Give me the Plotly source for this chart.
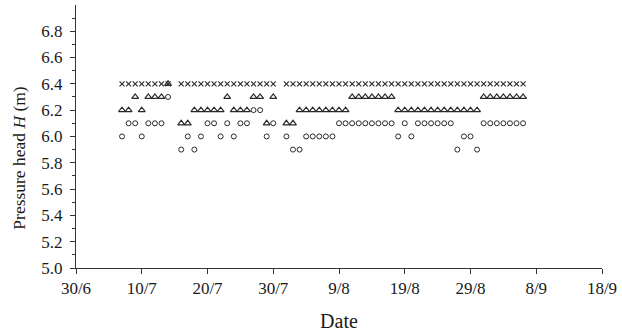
import plotly.graph_objects as go

# observation dates (2014)
dates = [
    "2014-07-07", "2014-07-08", "2014-07-09", "2014-07-10", "2014-07-11", "2014-07-12", "2014-07-13", "2014-07-14",
    "2014-07-16", "2014-07-17", "2014-07-18", "2014-07-19", "2014-07-20", "2014-07-21", "2014-07-22", "2014-07-23",
    "2014-07-24", "2014-07-25", "2014-07-26", "2014-07-27", "2014-07-28", "2014-07-29", "2014-07-30",
    "2014-08-01", "2014-08-02", "2014-08-03", "2014-08-04", "2014-08-05", "2014-08-06", "2014-08-07", "2014-08-08",
    "2014-08-09", "2014-08-10", "2014-08-11", "2014-08-12", "2014-08-13", "2014-08-14", "2014-08-15", "2014-08-16",
    "2014-08-17", "2014-08-18", "2014-08-19", "2014-08-20", "2014-08-21", "2014-08-22", "2014-08-23", "2014-08-24",
    "2014-08-25", "2014-08-26", "2014-08-27", "2014-08-28", "2014-08-29", "2014-08-30", "2014-08-31",
    "2014-09-01", "2014-09-02", "2014-09-03", "2014-09-04", "2014-09-05", "2014-09-06",
]

# series "x" markers
h_cross = [
    6.4, 6.4, 6.4, 6.4, 6.4, 6.4, 6.4, 6.4,
    6.4, 6.4, 6.4, 6.4, 6.4, 6.4, 6.4, 6.4,
    6.4, 6.4, 6.4, 6.4, 6.4, 6.4, 6.4,
    6.4, 6.4, 6.4, 6.4, 6.4, 6.4, 6.4, 6.4,
    6.4, 6.4, 6.4, 6.4, 6.4, 6.4, 6.4, 6.4,
    6.4, 6.4, 6.4, 6.4, 6.4, 6.4, 6.4, 6.4,
    6.4, 6.4, 6.4, 6.4, 6.4, 6.4, 6.4,
    6.4, 6.4, 6.4, 6.4, 6.4, 6.4,
]

# series triangle markers
h_triangle = [
    6.2, 6.2, 6.3, 6.2, 6.3, 6.3, 6.3, 6.4,
    6.1, 6.1, 6.2, 6.2, 6.2, 6.2, 6.2, 6.3,
    6.2, 6.2, 6.2, 6.3, 6.3, 6.1, 6.3,
    6.1, 6.1, 6.2, 6.2, 6.2, 6.2, 6.2, 6.2,
    6.2, 6.2, 6.3, 6.3, 6.3, 6.3, 6.3, 6.3,
    6.3, 6.2, 6.2, 6.2, 6.2, 6.2, 6.2, 6.2,
    6.2, 6.2, 6.2, 6.2, 6.2, 6.2, 6.3,
    6.3, 6.3, 6.3, 6.3, 6.3, 6.3,
]

# series circle markers
h_circle = [
    6.0, 6.1, 6.1, 6.0, 6.1, 6.1, 6.1, 6.3,
    5.9, 6.0, 5.9, 6.0, 6.1, 6.1, 6.0, 6.1,
    6.0, 6.1, 6.1, 6.2, 6.2, 6.0, 6.1,
    6.0, 5.9, 5.9, 6.0, 6.0, 6.0, 6.0, 6.0,
    6.1, 6.1, 6.1, 6.1, 6.1, 6.1, 6.1, 6.1,
    6.1, 6.0, 6.1, 6.0, 6.1, 6.1, 6.1, 6.1,
    6.1, 6.1, 5.9, 6.0, 6.0, 5.9, 6.1,
    6.1, 6.1, 6.1, 6.1, 6.1, 6.1,
]

x_tick_vals = ["2014-06-30", "2014-07-10", "2014-07-20", "2014-07-30", "2014-08-09",
               "2014-08-19", "2014-08-29", "2014-09-08", "2014-09-18"]
x_tick_text = ["30/6", "10/7", "20/7", "30/7", "9/8", "19/8", "29/8", "8/9", "18/9"]
y_tick_vals = [5.0, 5.2, 5.4, 5.6, 5.8, 6.0, 6.2, 6.4, 6.6, 6.8]
y_tick_text = ["5.0", "5.2", "5.4", "5.6", "5.8", "6.0", "6.2", "6.4", "6.6", "6.8"]

ink = "#2a2a2a"
font_family = "Liberation Serif"

fig = go.Figure()
fig.add_trace(go.Scatter(
    x=dates, y=h_circle, mode="markers",
    marker=dict(symbol="circle-open", size=5, color=ink, line=dict(width=1, color=ink)),
    showlegend=False))
fig.add_trace(go.Scatter(
    x=dates, y=h_cross, mode="markers",
    marker=dict(symbol="x-thin-open", size=5, color=ink, line=dict(width=1.1, color=ink)),
    showlegend=False))
fig.add_trace(go.Scatter(
    x=dates, y=h_triangle, mode="markers",
    marker=dict(symbol="triangle-up-open", size=6, color=ink, line=dict(width=1.2, color=ink)),
    showlegend=False))

fig.update_layout(
    width=622, height=334,
    margin=dict(l=76, r=18, t=5, b=66),
    plot_bgcolor="white", paper_bgcolor="white",
    font=dict(family=font_family, size=17, color="#1a1a1a"),
    xaxis=dict(
        type="date",
        range=["2014-06-30", "2014-09-18"],
        tickmode="array", tickvals=x_tick_vals, ticktext=x_tick_text,
        ticks="outside", ticklen=5, tickcolor="#333", showgrid=False, zeroline=False,
        showline=True, linecolor="#333", linewidth=1,
        title=dict(text="Date", standoff=16),
    ),
    yaxis=dict(
        range=[5.0, 6.999],
        tickmode="array", tickvals=y_tick_vals, ticktext=y_tick_text,
        ticks="outside", ticklen=5, tickcolor="#333", showgrid=False, zeroline=False,
        showline=True, linecolor="#333", linewidth=1,
        ticklabelstandoff=4,
        minor=dict(ticks="outside", ticklen=3, tick0=5.0, dtick=0.1, tickcolor="#333", showgrid=False),
    ),
    annotations=[dict(
        text="Pressure head <i>H</i> (m)", textangle=-90,
        xref="paper", yref="paper", x=-0.11, y=0.42,
        xanchor="center", yanchor="middle", showarrow=False,
        font=dict(family=font_family, size=17.5, color="#1a1a1a"),
    )],
)

fig.write_html("out.html")
